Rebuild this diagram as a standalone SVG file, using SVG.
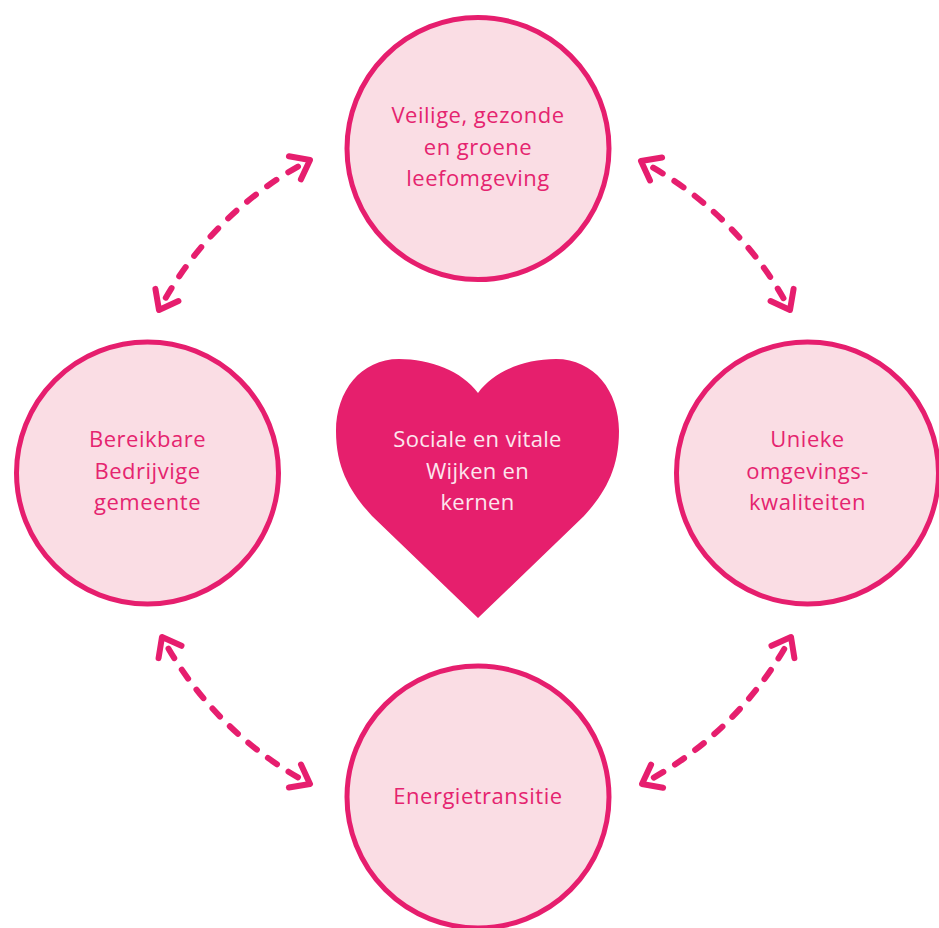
<svg xmlns="http://www.w3.org/2000/svg" width="939" height="928" viewBox="0 0 939 928">
  <defs>
    <style>
      .ring { fill: #FADDE4; stroke: #E61E6E; stroke-width: 5; }
      .label { font-family: "Open Sans", Lato, "Liberation Sans", sans-serif; font-size: 22px; letter-spacing: 0.5px; fill: #E5246F; text-anchor: middle; }
      .heart { fill: #E61F6D; }
      .heart-label { font-family: "Open Sans", Lato, "Liberation Sans", sans-serif; font-size: 22px; letter-spacing: 0.3px; fill: #FCE6EE; text-anchor: middle; }
      .link { fill: none; stroke: #E61E6E; stroke-width: 6; stroke-linecap: round; stroke-dasharray: 12.8 16; stroke-dashoffset: 12.8; marker-start: url(#head); marker-end: url(#head); }
    </style>
    <!-- open chevron arrowhead, used at both ends of every link -->
    <marker id="head" markerUnits="userSpaceOnUse" orient="auto-start-reverse" overflow="visible" markerWidth="1" markerHeight="1" refX="0" refY="0">
      <path d="M -17,-13 L 0,0 L -17,13" fill="none" stroke="#E61E6E" stroke-width="6" stroke-linecap="round" stroke-linejoin="round"/>
    </marker>
  </defs>

  <g id="connectors">
    <path class="link" pathLength="246" d="M 159,310 A 356 356 0 0 1 310,160"/>
    <path class="link" pathLength="246" d="M 641,161 A 356 356 0 0 1 790,310"/>
    <path class="link" pathLength="246" d="M 791,637 A 356 356 0 0 1 642,784"/>
    <path class="link" pathLength="246" d="M 310,784 A 356 356 0 0 1 162,637"/>
  </g>

  <g id="node-leefomgeving">
    <circle class="ring" cx="478" cy="148.5" r="131"/>
    <text class="label" x="478" y="123">Veilige, gezonde</text>
    <text class="label" x="478" y="154.5">en groene</text>
    <text class="label" x="478" y="186">leefomgeving</text>
  </g>

  <g id="node-bereikbaar">
    <circle class="ring" cx="147.5" cy="473" r="131"/>
    <text class="label" x="147.5" y="447">Bereikbare</text>
    <text class="label" x="147.5" y="478.5">Bedrijvige</text>
    <text class="label" x="147.5" y="510">gemeente</text>
  </g>

  <g id="node-omgevingskwaliteiten">
    <circle class="ring" cx="807.5" cy="473" r="131"/>
    <text class="label" x="807.5" y="447">Unieke</text>
    <text class="label" x="807.5" y="478.5">omgevings-</text>
    <text class="label" x="807.5" y="510">kwaliteiten</text>
  </g>

  <g id="node-energietransitie">
    <circle class="ring" cx="478" cy="797" r="131"/>
    <text class="label" x="478" y="804">Energietransitie</text>
  </g>

  <g id="node-wijken">
    <path class="heart" d="M 478,393 C 462,371 430,359 399,359 C 361,359 336,391 336,431 C 336,470 352,494 372,516 L 478,618 L 584,516 C 604,494 619,470 619,431 C 619,391 594,359 556,359 C 525,359 494,371 478,393 Z"/>
    <text class="heart-label" x="477.5" y="447">Sociale en vitale</text>
    <text class="heart-label" x="477.5" y="478.5">Wijken en</text>
    <text class="heart-label" x="477.5" y="510">kernen</text>
  </g>
</svg>
